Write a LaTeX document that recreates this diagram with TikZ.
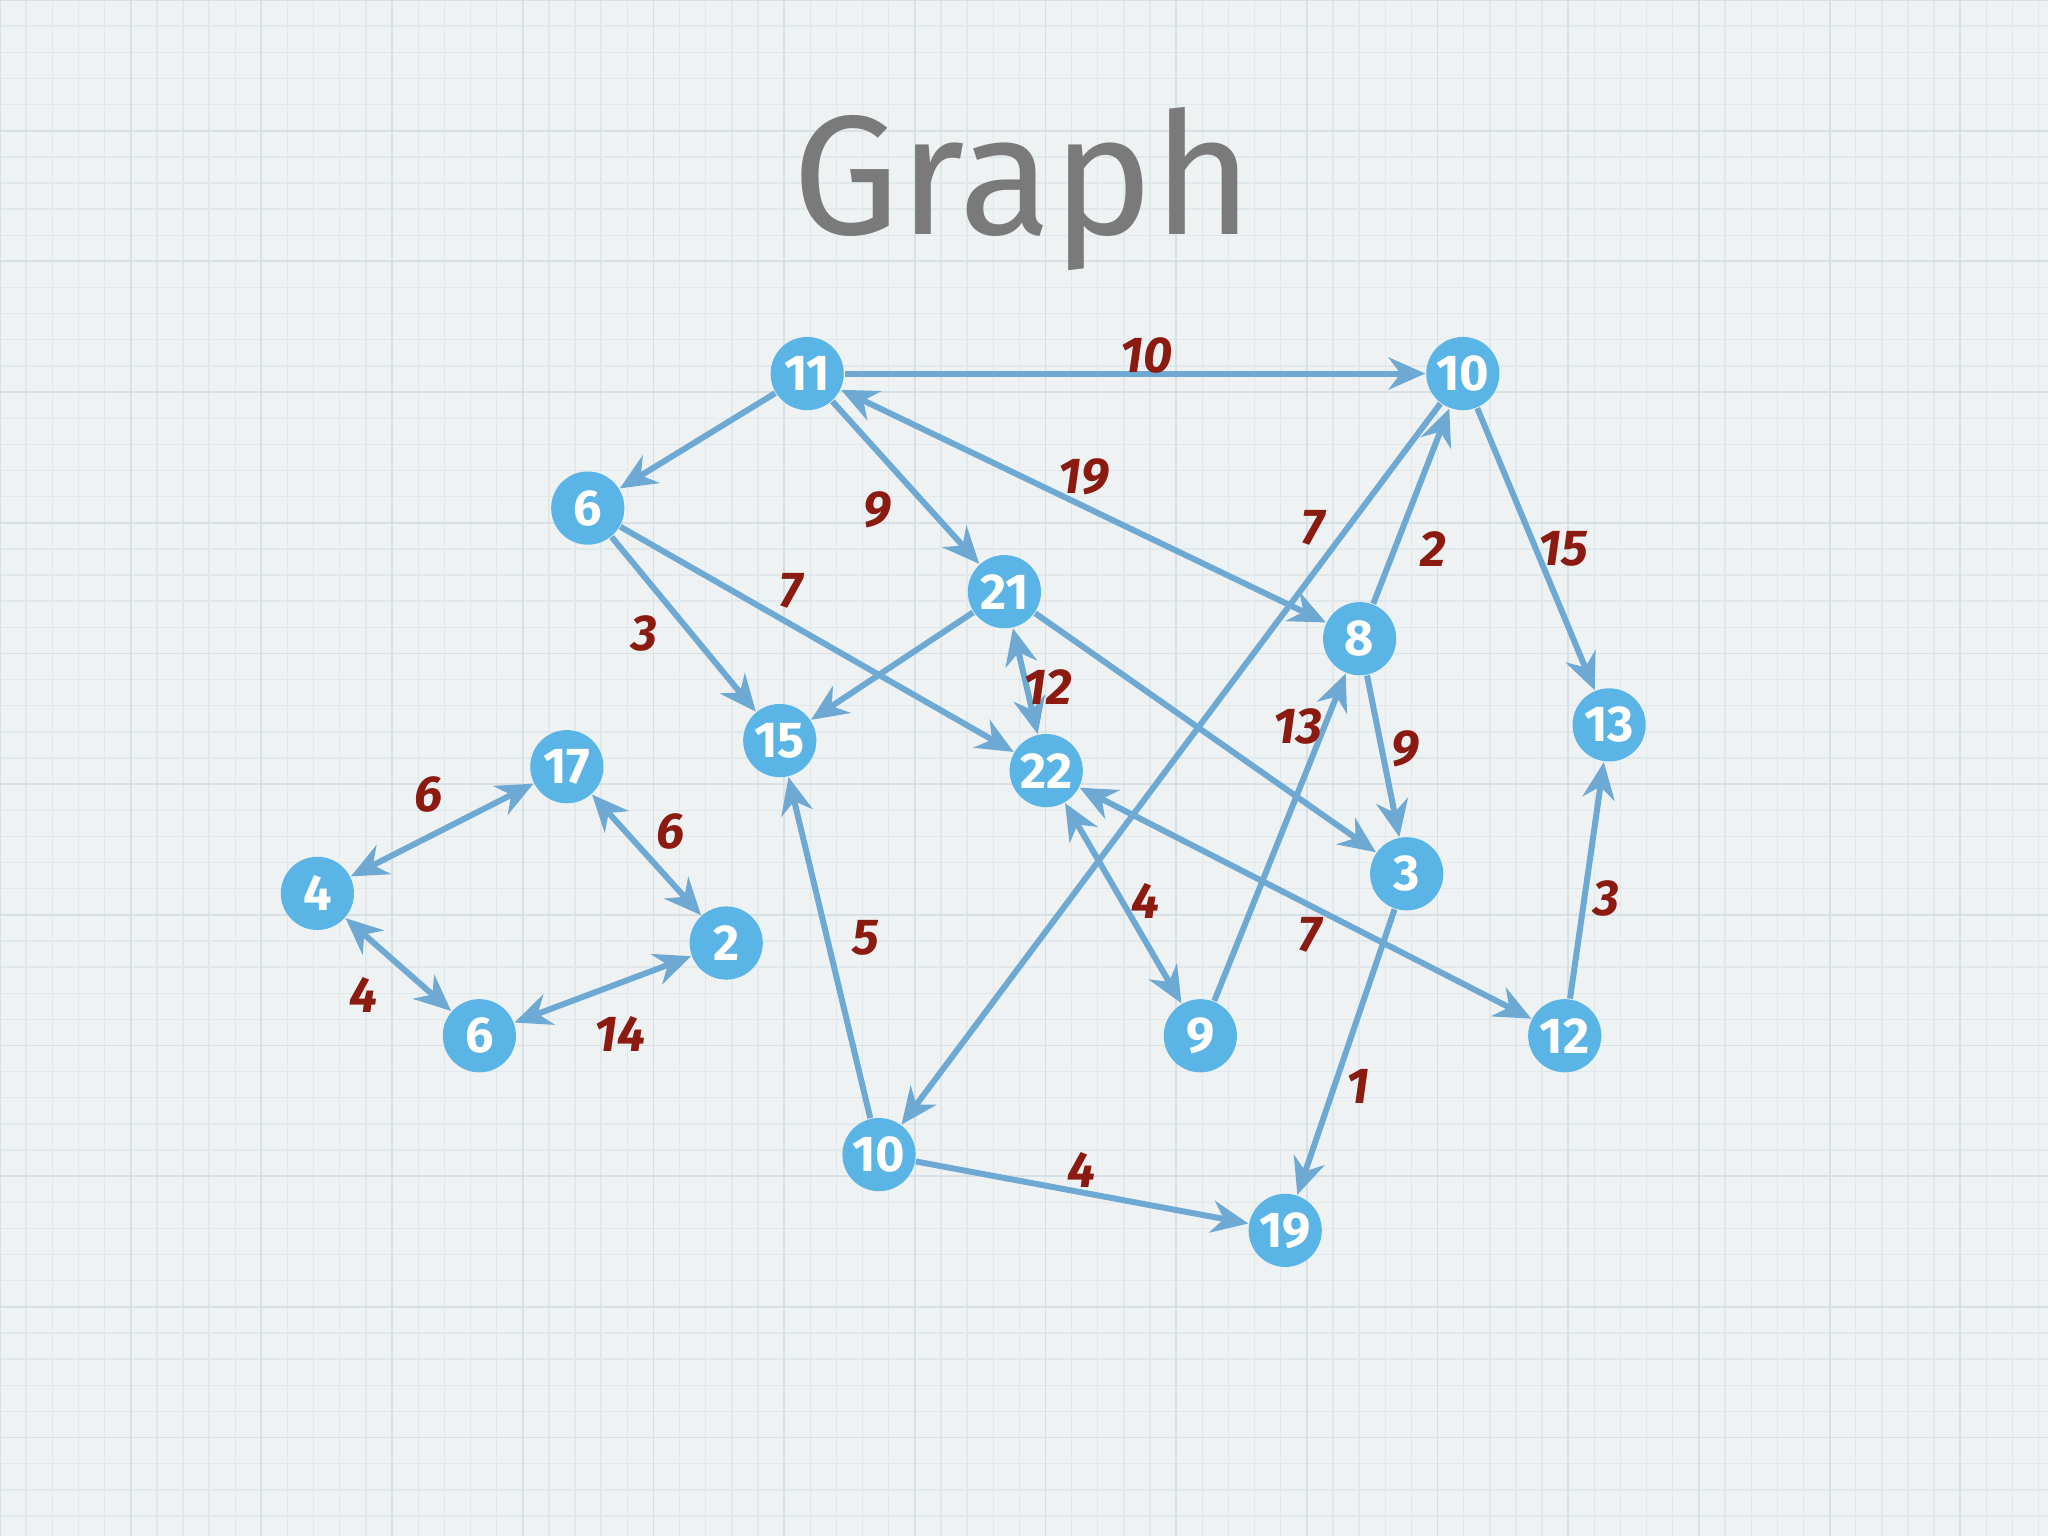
\documentclass[tikz,border=0pt]{standalone}
\usepackage{fontspec}
\setmainfont{Fira Sans}
\usetikzlibrary{arrows.meta}
\definecolor{bg}{HTML}{EEF2F3}
\definecolor{gridc}{HTML}{E0E8EC}
\definecolor{gridm}{HTML}{D6E0E5}
\definecolor{nodec}{HTML}{5AB4E5}
\definecolor{edgec}{HTML}{6EA9D4}
\definecolor{labc}{HTML}{8B1A10}
\definecolor{titlec}{HTML}{7A7A7A}
\tikzset{
 vtx/.style={circle,fill=nodec,minimum size=0.56cm,inner sep=0pt,text=white,font=\bfseries\fontsize{11}{11}\selectfont},
 edge/.style={draw=edgec,line width=1.3pt,-{Stealth[length=8pt,width=7pt]}},
 bi/.style={draw=edgec,line width=1.3pt,{Stealth[length=8pt,width=7pt]}-{Stealth[length=8pt,width=7pt]}},
 wl/.style={text=labc,font=\bfseries\itshape\fontsize{11}{11}\selectfont}
}
\begin{document}
\begin{tikzpicture}[x=0.01cm,y=-0.01cm]
\fill[bg] (0,0) rectangle (1568,1176);
\useasboundingbox (0,0) rectangle (1568,1176);
\draw[gridc,line width=0.3pt,step=0.2cm] (0,0) grid (1568,1176);
\draw[gridm,line width=0.4pt,step=1cm] (0,0) grid (1568,1176);
\node[text=titlec,font=\fontsize{37}{37}\selectfont] (title) at (783,145) {Graph};
\node[vtx] (A) at (618,286) {11};
\node[vtx] (B) at (1120,286) {10};
\node[vtx] (C) at (450,389) {6};
\node[vtx] (D) at (769,453) {21};
\node[vtx] (E) at (1041,489) {8};
\node[vtx] (F) at (1232,555) {13};
\node[vtx] (G) at (597,567) {15};
\node[vtx] (H) at (801,590) {22};
\node[vtx] (I) at (434,587) {17};
\node[vtx] (J) at (243,684) {4};
\node[vtx] (K) at (556,722) {2};
\node[vtx] (L) at (1077,669) {3};
\node[vtx] (M) at (367,793) {6};
\node[vtx] (N) at (919,793) {9};
\node[vtx] (O) at (1198,793) {12};
\node[vtx] (P) at (673,884) {10};
\node[vtx] (Q) at (984,942) {19};
\draw[edge] (A) -- (B);
\draw[edge] (A) -- (C);
\draw[bi] (A) -- (E);
\draw[edge] (A) -- (D);
\draw[edge] (C) -- (G);
\draw[edge] (C) -- (H);
\draw[edge] (D) -- (G);
\draw[bi] (D) -- (H);
\draw[edge] (D) -- (L);
\draw[edge] (B) -- (P);
\draw[edge] (E) -- (B);
\draw[edge] (B) -- (F);
\draw[edge] (E) -- (L);
\draw[edge] (N) -- (E);
\draw[bi] (H) -- (N);
\draw[bi] (O) -- (H);
\draw[edge] (O) -- (F);
\draw[edge] (L) -- (Q);
\draw[edge] (P) -- (G);
\draw[edge] (P) -- (Q);
\draw[bi] (J) -- (I);
\draw[bi] (I) -- (K);
\draw[bi] (J) -- (M);
\draw[bi] (M) -- (K);
\node[wl] (l1) at (878,272) {10};
\node[wl] (l2) at (830,365) {19};
\node[wl] (l3) at (672,390) {9};
\node[wl] (l4) at (493,485) {3};
\node[wl] (l5) at (606,452) {7};
\node[wl] (l6) at (802,526) {12};
\node[wl] (l7) at (1005,404) {7};
\node[wl] (l8) at (1097,420) {2};
\node[wl] (l9) at (1197,420) {15};
\node[wl] (l10) at (1076,573) {9};
\node[wl] (l11) at (994,556) {13};
\node[wl] (l12) at (877,690) {4};
\node[wl] (l13) at (1003,716) {7};
\node[wl] (l14) at (1230,688) {3};
\node[wl] (l15) at (1040,832) {1};
\node[wl] (l16) at (663,718) {5};
\node[wl] (l17) at (828,896) {4};
\node[wl] (l18) at (328,608) {6};
\node[wl] (l19) at (513,637) {6};
\node[wl] (l20) at (278,762) {4};
\node[wl] (l21) at (475,792) {14};
\end{tikzpicture}
\end{document}
